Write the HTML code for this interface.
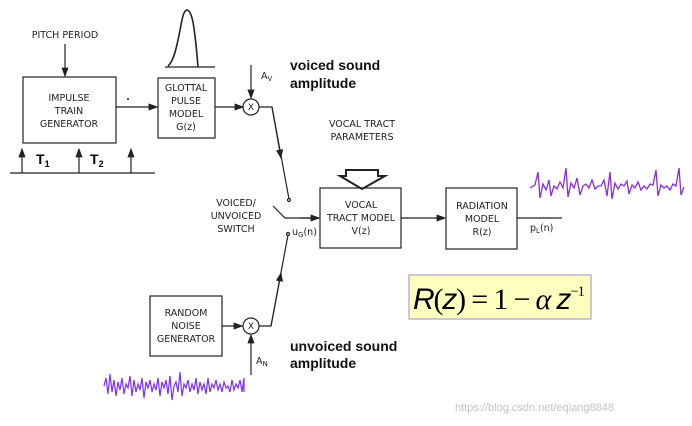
<!DOCTYPE html>
<html><head><style>
html,body{margin:0;padding:0;background:#fff;}
svg{display:block;}
.t{font-family:"DejaVu Sans",sans-serif;font-size:9.5px;fill:#222;}
.b{font-family:"Liberation Sans",sans-serif;font-size:14px;font-weight:bold;fill:#111;}
</style></head><body>
<svg width="692" height="426" viewBox="0 0 692 426" xmlns="http://www.w3.org/2000/svg">
<defs><marker id="a" markerWidth="8" markerHeight="6" refX="7" refY="3" orient="auto"><path d="M0,0 L8,3 L0,6 z" fill="#222"/></marker></defs>
<g stroke="#222" stroke-width="1.2" fill="none">
<line x1="65" y1="44" x2="65" y2="76" marker-end="url(#a)"/>
<rect x="23" y="77" width="93" height="66"/>
<line x1="116" y1="107" x2="157" y2="107" marker-end="url(#a)"/>
<rect x="158" y="78" width="57" height="60"/>
<line x1="215" y1="107" x2="243" y2="107" marker-end="url(#a)"/>
<circle cx="251" cy="107" r="8"/>
<line x1="251" y1="65" x2="251" y2="98" marker-end="url(#a)"/>
<polyline points="259,107 272,107 289,199"/>
<line x1="272" y1="107" x2="281" y2="158" marker-end="url(#a)"/>
<circle cx="289" cy="200" r="1.5"/>
<polyline points="273,206 285,218 319,218"/>
<line x1="300" y1="218" x2="319" y2="218" marker-end="url(#a)"/>
<circle cx="288" cy="234" r="1.5"/>
<polyline points="288,235 271,326 259,326"/>
<line x1="271" y1="326" x2="281" y2="273" marker-end="url(#a)"/>
<rect x="150" y="296" width="72" height="60"/>
<line x1="222" y1="326" x2="242" y2="326" marker-end="url(#a)"/>
<circle cx="251" cy="326" r="8"/>
<line x1="251" y1="375" x2="251" y2="335" marker-end="url(#a)"/>
<rect x="320" y="188" width="81" height="60"/>
<line x1="401" y1="218" x2="445" y2="218" marker-end="url(#a)"/>
<rect x="446" y="188" width="71" height="61"/>
<line x1="517" y1="218" x2="562" y2="218"/>
<path d="M346,170 L378,170 L378,176 L385,176 L362,189 L340,176 L346,176 Z" stroke-width="2"/>
<line x1="165" y1="67" x2="215" y2="67"/>
<path d="M168,66 C175,60 178,40 182,20 C185,5 190,8 193,22 C196,40 197,55 198,67" stroke-width="1.6"/>
<line x1="10" y1="173" x2="155" y2="173"/>
<line x1="22" y1="173" x2="22" y2="149" marker-end="url(#a)"/>
<line x1="79" y1="173" x2="79" y2="149" marker-end="url(#a)"/>
<line x1="131" y1="173" x2="131" y2="149" marker-end="url(#a)"/>
</g>
<circle cx="128" cy="99" r="1" fill="#222"/>
<g class="t" text-anchor="middle">
<text x="65" y="38">PITCH PERIOD</text>
<text x="69" y="101">IMPULSE</text><text x="69" y="114">TRAIN</text><text x="69" y="127">GENERATOR</text>
<text x="186" y="91">GLOTTAL</text><text x="186" y="104">PULSE</text><text x="186" y="117">MODEL</text><text x="186" y="130">G(z)</text>
<text x="251" y="110" font-size="9">X</text>
<text x="251" y="329" font-size="9">X</text>
<text x="362" y="127">VOCAL TRACT</text><text x="362" y="140">PARAMETERS</text>
<text x="361" y="208">VOCAL</text><text x="361" y="221">TRACT MODEL</text><text x="361" y="234">V(z)</text>
<text x="482" y="209">RADIATION</text><text x="482" y="222">MODEL</text><text x="482" y="235">R(z)</text>
<text x="236" y="206">VOICED/</text><text x="236" y="219">UNVOICED</text><text x="236" y="232">SWITCH</text>
<text x="186" y="316">RANDOM</text><text x="186" y="329">NOISE</text><text x="186" y="342">GENERATOR</text>
</g>
<text class="t" x="261" y="79">A<tspan font-size="7" dy="2">V</tspan></text>
<text class="t" x="256" y="364">A<tspan font-size="7" dy="2">N</tspan></text>
<text class="t" x="292" y="235">u<tspan font-size="7" dy="2">G</tspan><tspan dy="-2">(n)</tspan></text>
<text class="t" x="530" y="231">p<tspan font-size="7" dy="2">L</tspan><tspan dy="-2">(n)</tspan></text>
<text x="36" y="164" font-family="Liberation Sans" font-weight="bold" font-size="14">T<tspan font-size="9" dy="3">1</tspan></text>
<text x="90" y="164" font-family="Liberation Sans" font-weight="bold" font-size="14">T<tspan font-size="9" dy="3">2</tspan></text>
<text class="b" x="290" y="70">voiced sound</text><text class="b" x="290" y="88">amplitude</text>
<text class="b" x="290" y="351">unvoiced sound</text><text class="b" x="290" y="368">amplitude</text>
<rect x="409" y="275" width="182" height="44" fill="#ffffc0" stroke="#9a8cc8" stroke-width="1"/>
<text x="413" y="309" font-family="Liberation Serif" font-size="30" fill="#000" textLength="172" lengthAdjust="spacing"><tspan font-family="Liberation Sans" font-style="italic">R</tspan>(<tspan font-family="Liberation Sans" font-style="italic">z</tspan>) = 1 − <tspan font-style="italic">α</tspan> <tspan font-family="Liberation Sans" font-style="italic">z</tspan><tspan font-size="15" dy="-13">−1</tspan></text>
<polyline fill="none" stroke="#8a2be2" stroke-width="1.3" points="530,188 535,185 538,172 540,198 543,184 546,190 549,180 551,196 554,186 557,189 560,182 563,188 566,168 568,197 571,183 574,188 577,178 580,195 583,186 586,184 589,188 592,180 595,189 598,186 601,186 604,180 607,196 610,172 612,199 615,183 618,189 621,184 624,186 627,181 629,194 632,185 635,188 638,182 641,190 644,186 647,189 650,184 653,185 656,170 658,196 661,185 664,188 667,186 670,190 673,184 676,186 679,168 681,195 684,187"/>
<polyline fill="none" stroke="#7b2fff" stroke-width="1.2" points="104,386 106,378 108,394 110,374 112,392 114,380 116,396 118,382 120,390 122,378 124,394 126,384 128,388 130,376 132,396 134,380 136,392 138,384 140,390 142,378 144,398 146,382 148,388 150,380 152,392 154,384 156,390 158,378 160,396 162,382 164,388 166,380 168,394 170,376 172,400 174,386 176,382 178,392 180,372 182,396 184,384 186,388 188,380 190,392 192,384 194,390 196,378 198,394 200,382 202,390 204,384 206,394 208,378 210,392 212,384 214,388 216,380 218,390 220,384 222,392 224,382 226,388 228,386 230,392 232,380 234,390 236,384 238,388 240,380 242,392 244,378 244,392"/>
<text x="455" y="411" font-family="Liberation Sans" font-size="11" fill="#c4c4c4">https://blog.csdn.net/eqiang8848</text>
</svg>
</body></html>
